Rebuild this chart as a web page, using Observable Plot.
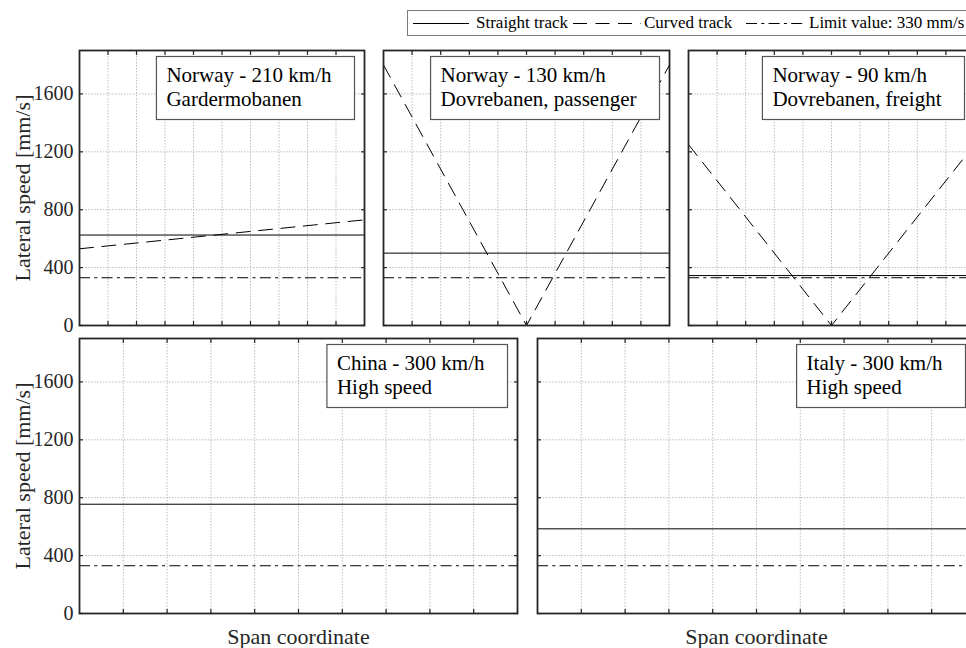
<!DOCTYPE html>
<html><head><meta charset="utf-8">
<script src="https://cdn.jsdelivr.net/npm/d3@7"></script>
<script src="https://cdn.jsdelivr.net/npm/@observablehq/plot@0.6"></script>
<style>
html,body{margin:0;padding:0;background:#fff;overflow:hidden}
#fig{position:relative;width:966px;height:648px;overflow:hidden;background:#fff;font-family:"Liberation Serif","Times New Roman",serif;color:#000}
#fig svg.panel{position:absolute;overflow:visible;font-family:"Liberation Serif","Times New Roman",serif !important}
#fig svg.panel text{font-family:"Liberation Serif","Times New Roman",serif !important}
.legend{position:absolute;left:407px;top:10px;height:26px;width:575px;border:1px solid #7a7a7a;box-sizing:border-box;font-size:17px;white-space:nowrap;background:#fff}
.legend .it{position:absolute;top:0;height:24px;line-height:24px}
.legend svg{position:absolute;top:0}
</style></head><body><div id="fig"></div>
<script>
// ---- data ----
const panelTitles = ["Norway - 210 km/h", "Norway - 130 km/h", "Norway - 90 km/h", "China - 300 km/h", "Italy - 300 km/h"];
const panelSubtitles = ["Gardermobanen", "Dovrebanen, passenger", "Dovrebanen, freight", "High speed", "High speed"];
const straightTrack = [625, 500, 345, 755, 585];
const curvedX = [0, 5, 10];
const curvedTrack = [[530, 630, 730], [1800, 0, 1800], [1250, 0, 1250], null, null];
const limitValue = 330;
const yTicks = [0, 400, 800, 1200, 1600];
const xTicks = [1, 2, 3, 4, 5, 6, 7, 8, 9];
const xDomain = [0, 10];
const yDomain = [0, 1900];
const legendLabels = ["Straight track", "Curved track", "Limit value: 330 mm/s"];
const yLabel = "Lateral speed [mm/s]";
const xLabel = "Span coordinate";

// ---- layout ----
const layout = [
  {left: 79, top: 50, w: 285, h: 275, yAxis: true, xAxis: false},
  {left: 383, top: 50, w: 286, h: 275, yAxis: false, xAxis: false},
  {left: 688, top: 50, w: 286, h: 275, yAxis: false, xAxis: false},
  {left: 79, top: 338, w: 438, h: 275, yAxis: true, xAxis: true},
  {left: 537, top: 338, w: 438, h: 275, yAxis: false, xAxis: true}
];
const FONT = '"Liberation Serif", "Times New Roman", serif';
const INK = "#262626";
const dashCurved = "14,8.5";
const dashLimit = "11,4.3,3,4.3";
const gridStyle = {stroke: "#bdbdbd", strokeOpacity: 1, strokeDasharray: "1.5,1.5", strokeWidth: 1};

const ctx = document.createElement("canvas").getContext("2d");
ctx.font = `21px ${FONT}`;

const fig = document.getElementById("fig");

layout.forEach((L, i) => {
  const ML = L.yAxis ? L.left : 2;
  const MT = 2, MR = 2;
  const MB = L.xAxis ? 35 : 2;
  const boxW = Math.max(ctx.measureText(panelTitles[i]).width, ctx.measureText(panelSubtitles[i]).width) + 33;
  const boxH = 63;
  const curved = curvedTrack[i] ? curvedX.map((x, j) => ({x, y: curvedTrack[i][j]})) : [];
  const chart = Plot.plot({
    width: L.w + ML + MR,
    height: L.h + MT + MB,
    marginLeft: ML, marginRight: MR, marginTop: MT, marginBottom: MB,
    style: {fontSize: "20px", background: "transparent", color: INK},
    x: {domain: xDomain, axis: null},
    y: {domain: yDomain, axis: null},
    marks: [
      Plot.gridX(xTicks, gridStyle),
      Plot.gridY(yTicks.slice(1), gridStyle),
      Plot.ruleY([limitValue], {stroke: "#000", strokeWidth: 1, strokeDasharray: dashLimit}),
      Plot.ruleY([straightTrack[i]], {stroke: "#000", strokeWidth: 1}),
      Plot.line(curved, {x: "x", y: "y", stroke: "#000", strokeWidth: 1, strokeDasharray: dashCurved}),
      Plot.frame({fill: "white", stroke: "#555", strokeWidth: 1.2,
        insetTop: 6, insetRight: 10, insetLeft: L.w - 10 - boxW, insetBottom: L.h - 6 - boxH}),
      Plot.text([panelTitles[i] + "\n" + panelSubtitles[i]], {
        frameAnchor: "top-left", textAnchor: "start", lineAnchor: "top",
        dx: L.w - boxW, dy: 14, fontSize: 21, lineHeight: 1.15, fill: "#000"}),
      Plot.axisY(yTicks, {anchor: "left", tickSize: -4, tickPadding: 10, stroke: INK, strokeWidth: 1.2, fill: INK, fontSize: 20,
        tickFormat: L.yAxis ? (d => String(d)) : (() => ""), label: null}),
      L.yAxis ? Plot.axisY(yTicks, {anchor: "left", tickSize: 0, fill: INK, fontSize: 22, tickFormat: () => "",
        label: yLabel, labelAnchor: "center", labelOffset: 65, labelArrow: "none"}) : null,
      Plot.axisY(yTicks, {anchor: "right", tickSize: -4, stroke: INK, strokeWidth: 1.2, tickFormat: () => "", label: null}),
      Plot.axisX(xTicks, {anchor: "top", tickSize: -4, stroke: INK, strokeWidth: 1.2, tickFormat: () => "", label: null}),
      Plot.axisX(xTicks, {anchor: "bottom", tickSize: -4, stroke: INK, strokeWidth: 1.2, fill: INK, fontSize: 22,
        tickFormat: () => "", label: L.xAxis ? xLabel : null, labelAnchor: "center", labelOffset: 30, labelArrow: "none"}),
      Plot.frame({stroke: INK, strokeWidth: 1.8})
    ]
  });
  chart.classList.add("panel");
  chart.style.left = (L.left - ML) + "px";
  chart.style.top = (L.top - MT) + "px";
  fig.appendChild(chart);
});

// ---- legend ----
const lg = document.createElement("div");
lg.className = "legend";
const legendItems = [
  {dash: null, x0: 5, len: 56, tx: 68},
  {dash: dashCurved, x0: 165, len: 68, tx: 236},
  {dash: dashLimit, x0: 338, len: 60, tx: 401}
];
legendItems.forEach((it, k) => {
  const s = d3.create("svg").attr("width", it.len).attr("height", 24).style("left", it.x0 + "px");
  s.append("line").attr("x1", 0).attr("x2", it.len).attr("y1", 12.5).attr("y2", 12.5)
    .attr("stroke", "#000").attr("stroke-width", 1).attr("stroke-dasharray", it.dash);
  lg.appendChild(s.node());
  const t = document.createElement("span");
  t.className = "it";
  t.style.left = it.tx + "px";
  t.textContent = legendLabels[k];
  lg.appendChild(t);
});
fig.appendChild(lg);
</script>
</body></html>
